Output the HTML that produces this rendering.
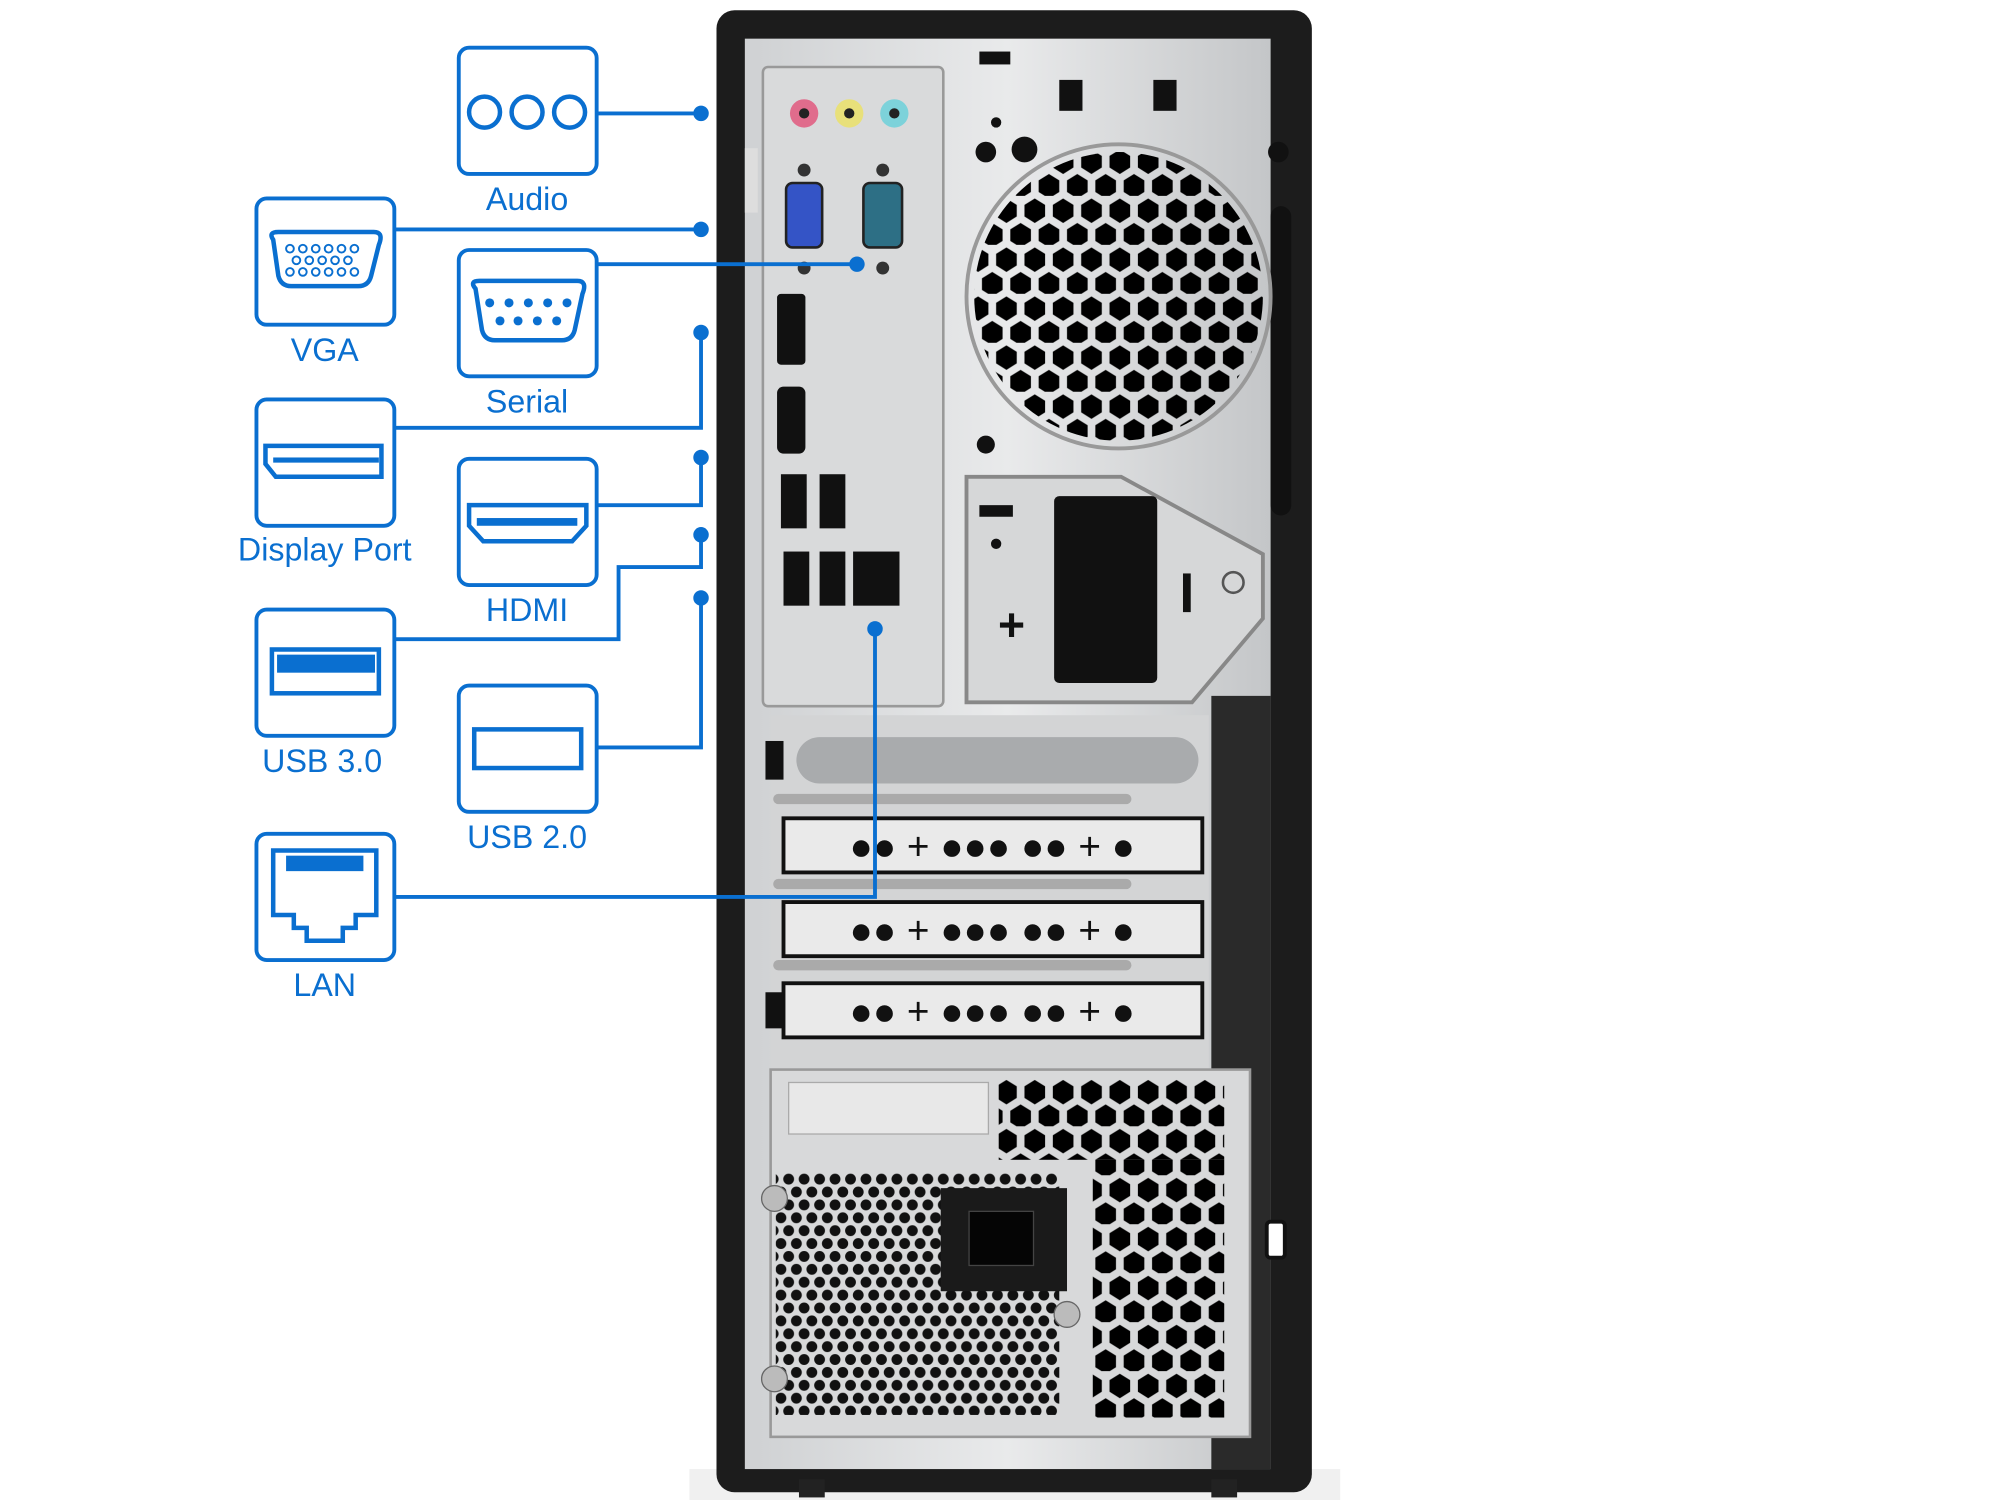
<!DOCTYPE html>
<html><head><meta charset="utf-8"><style>
html,body{margin:0;padding:0;background:#fff;width:2000px;height:1500px;overflow:hidden}
svg{display:block}
text{font-family:"Liberation Sans",sans-serif;fill:#0a6fd0;font-size:25px;text-anchor:middle}
</style></head><body>
<svg width="2000" height="1500" viewBox="0 0 1552 1164" preserveAspectRatio="none" xmlns="http://www.w3.org/2000/svg">
<defs>
<pattern id="hex" width="22" height="38" patternUnits="userSpaceOnUse">
<polygon points="11,2 19,7 19,16 11,21 3,16 3,7" fill="#000"/>
<polygon points="0,21 8,26 8,35 0,40 -8,35 -8,26" fill="#000"/>
<polygon points="22,21 30,26 30,35 22,40 14,35 14,26" fill="#000"/>
</pattern>
<pattern id="hexs" width="12" height="20" patternUnits="userSpaceOnUse">
<circle cx="6" cy="5" r="4.2" fill="#111"/><circle cx="0" cy="15" r="4.2" fill="#111"/><circle cx="12" cy="15" r="4.2" fill="#111"/>
</pattern>
<linearGradient id="met" x1="0" x2="1"><stop offset="0" stop-color="#cfd1d3"/><stop offset="0.5" stop-color="#e9eaeb"/><stop offset="1" stop-color="#c4c6c8"/></linearGradient>
</defs>
<!-- case -->
<rect x="535" y="1140" width="505" height="24" fill="#f0f0f0"/>
<rect x="556" y="8" width="462" height="1150" rx="14" fill="#1c1c1c"/>
<rect x="620" y="1148" width="20" height="14" fill="#222"/><rect x="940" y="1148" width="20" height="14" fill="#222"/>
<rect x="578" y="30" width="408" height="1110" fill="url(#met)"/>
<rect x="940" y="540" width="46" height="600" fill="#2a2a2a"/>
<rect x="986" y="160" width="16" height="240" rx="8" fill="#111"/>
<!-- I/O panel -->
<rect x="592" y="52" width="140" height="496" rx="4" fill="#d9dadb" stroke="#999" stroke-width="2"/>
<rect x="578" y="115" width="10" height="50" fill="#ddd"/>
<circle cx="624" cy="88" r="11" fill="#e06c8c"/><circle cx="624" cy="88" r="4" fill="#222"/>
<circle cx="659" cy="88" r="11" fill="#e8e07a"/><circle cx="659" cy="88" r="4" fill="#222"/>
<circle cx="694" cy="88" r="11" fill="#7dd2da"/><circle cx="694" cy="88" r="4" fill="#222"/>
<rect x="610" y="142" width="28" height="50" rx="5" fill="#3454c6" stroke="#222" stroke-width="2"/>
<rect x="670" y="142" width="30" height="50" rx="5" fill="#2d6f85" stroke="#222" stroke-width="2"/>
<circle cx="624" cy="132" r="5" fill="#333"/><circle cx="624" cy="208" r="5" fill="#333"/>
<circle cx="685" cy="132" r="5" fill="#333"/><circle cx="685" cy="208" r="5" fill="#333"/>
<rect x="603" y="228" width="22" height="55" rx="3" fill="#111"/>
<rect x="603" y="300" width="22" height="52" rx="5" fill="#111"/>
<rect x="606" y="368" width="20" height="42" fill="#111"/><rect x="636" y="368" width="20" height="42" fill="#111"/>
<rect x="608" y="428" width="20" height="42" fill="#111"/><rect x="636" y="428" width="20" height="42" fill="#111"/>
<rect x="662" y="428" width="36" height="42" fill="#111"/>
<!-- fan -->
<circle cx="868" cy="230" r="118" fill="none" stroke="#999" stroke-width="3"/>
<circle cx="868" cy="230" r="112" fill="url(#hex)"/>
<circle cx="773" cy="95" r="4" fill="#111"/><circle cx="765" cy="118" r="8" fill="#111"/><circle cx="795" cy="116" r="10" fill="#111"/>
<rect x="822" y="62" width="18" height="24" fill="#111"/><rect x="895" y="62" width="18" height="24" fill="#111"/>
<rect x="760" y="40" width="24" height="10" fill="#111"/>
<circle cx="992" cy="118" r="8" fill="#111"/><circle cx="765" cy="345" r="7" fill="#111"/>
<!-- right mid -->
<path d="M750 370 L870 370 L980 430 L980 480 L925 545 L750 545 Z" fill="#d6d7d8" stroke="#888" stroke-width="3"/>
<rect x="818" y="385" width="80" height="145" rx="4" fill="#111"/>
<rect x="760" y="392" width="26" height="9" fill="#111"/><circle cx="773" cy="422" r="4" fill="#111"/>
<text x="785" y="497" style="fill:#111;font-size:36px;font-weight:bold">+</text>
<rect x="918" y="445" width="6" height="30" fill="#111"/>
<circle cx="957" cy="452" r="8" fill="none" stroke="#555" stroke-width="2"/>
<!-- slots -->
<rect x="598" y="555" width="340" height="280" fill="#d3d4d5"/>
<rect x="618" y="572" width="312" height="36" rx="18" fill="#a9abad"/>
<rect x="594" y="575" width="14" height="30" fill="#111"/>
<rect x="600" y="616" width="278" height="8" rx="4" fill="#aaa"/>
<rect x="600" y="682" width="278" height="8" rx="4" fill="#aaa"/>
<rect x="600" y="745" width="278" height="8" rx="4" fill="#aaa"/>
<rect x="608" y="635" width="325" height="42" fill="#eaeaea" stroke="#111" stroke-width="3"/>
<rect x="608" y="700" width="325" height="42" fill="#eaeaea" stroke="#111" stroke-width="3"/>
<rect x="608" y="763" width="325" height="42" fill="#eaeaea" stroke="#111" stroke-width="3"/>
<rect x="594" y="770" width="14" height="28" fill="#111"/>
<text x="770" y="667" style="fill:#111;font-size:30px">●● + ●●●  ●● + ●</text>
<text x="770" y="732" style="fill:#111;font-size:30px">●● + ●●●  ●● + ●</text>
<text x="770" y="795" style="fill:#111;font-size:30px">●● + ●●●  ●● + ●</text>
<!-- PSU -->
<rect x="598" y="830" width="372" height="285" fill="#d8d9da" stroke="#999" stroke-width="2"/>
<rect x="612" y="840" width="155" height="40" fill="#e8e8e8" stroke="#aaa"/>
<rect x="602" y="910" width="220" height="188" fill="url(#hexs)"/>
<rect x="775" y="838" width="175" height="62" fill="url(#hex)"/>
<rect x="848" y="900" width="102" height="200" fill="url(#hex)"/>
<rect x="730" y="922" width="98" height="80" fill="#1a1a1a"/>
<rect x="752" y="940" width="50" height="42" fill="#050505" stroke="#444"/>
<circle cx="601" cy="930" r="10" fill="#bbb" stroke="#666"/><circle cx="601" cy="1070" r="10" fill="#bbb" stroke="#666"/>
<circle cx="828" cy="1020" r="10" fill="#bbb" stroke="#666"/>
<rect x="983" y="948" width="14" height="28" rx="3" fill="#fff" stroke="#111" stroke-width="3"/>
<!-- callout boxes -->
<g fill="#fff" stroke="#0a6fd0" stroke-width="3">
<rect x="356" y="37" width="107" height="98" rx="8"/>
<rect x="199" y="154" width="107" height="98" rx="8"/>
<rect x="356" y="194" width="107" height="98" rx="8"/>
<rect x="199" y="310" width="107" height="98" rx="8"/>
<rect x="356" y="356" width="107" height="98" rx="8"/>
<rect x="199" y="473" width="107" height="98" rx="8"/>
<rect x="356" y="532" width="107" height="98" rx="8"/>
<rect x="199" y="647" width="107" height="98" rx="8"/>
</g>
<g fill="none" stroke="#0a6fd0" stroke-width="3.5">
<circle cx="376" cy="87" r="12"/><circle cx="409" cy="87" r="12"/><circle cx="442" cy="87" r="12"/>
<path d="M212 186 Q208 180 216 180 L290 180 Q298 180 294 190 L288 214 Q286 222 278 222 L226 222 Q218 222 216 214 Z"/>
<path d="M369 224 Q364 218 372 218 L448 218 Q456 218 452 228 L446 256 Q444 264 436 264 L384 264 Q376 264 374 256 Z"/>
<path d="M206 346 L296 346 L296 370 L214 370 L206 360 Z"/>
<path d="M364 392 L455 392 L455 408 L444 420 L375 420 L364 408 Z"/>
<rect x="211" y="504" width="83" height="34"/>
<rect x="368" y="566" width="83" height="30"/>
<path d="M212 660 L292 660 L292 710 L276 710 L276 720 L266 720 L266 730 L238 730 L238 720 L228 720 L228 710 L212 710 Z"/>
</g>
<g fill="#0a6fd0">
<rect x="215" y="508" width="76" height="14"/>
<rect x="370" y="402" width="78" height="6"/>
<circle cx="380" cy="235" r="3.5"/><circle cx="395" cy="235" r="3.5"/><circle cx="410" cy="235" r="3.5"/><circle cx="425" cy="235" r="3.5"/><circle cx="440" cy="235" r="3.5"/>
<circle cx="388" cy="249" r="3.5"/><circle cx="402" cy="249" r="3.5"/><circle cx="417" cy="249" r="3.5"/><circle cx="432" cy="249" r="3.5"/>
<rect x="212" y="355" width="82" height="4"/>
<rect x="222" y="664" width="60" height="12"/>
</g>
<g fill="none" stroke="#0a6fd0" stroke-width="1.5">
<circle cx="225" cy="193" r="3"/><circle cx="235" cy="193" r="3"/><circle cx="245" cy="193" r="3"/><circle cx="255" cy="193" r="3"/><circle cx="265" cy="193" r="3"/><circle cx="275" cy="193" r="3"/>
<circle cx="230" cy="202" r="3"/><circle cx="240" cy="202" r="3"/><circle cx="250" cy="202" r="3"/><circle cx="260" cy="202" r="3"/><circle cx="270" cy="202" r="3"/>
<circle cx="225" cy="211" r="3"/><circle cx="235" cy="211" r="3"/><circle cx="245" cy="211" r="3"/><circle cx="255" cy="211" r="3"/><circle cx="265" cy="211" r="3"/><circle cx="275" cy="211" r="3"/>
</g>
<text x="409" y="163">Audio</text>
<text x="252" y="280">VGA</text>
<text x="409" y="320">Serial</text>
<text x="252" y="435">Display Port</text>
<text x="409" y="482">HDMI</text>
<text x="250" y="599">USB 3.0</text>
<text x="409" y="658">USB 2.0</text>
<text x="252" y="773">LAN</text>
<!-- connectors -->
<g fill="none" stroke="#0a6fd0" stroke-width="3">
<path d="M463 88 H544"/>
<path d="M306 178 H544"/>
<path d="M463 205 H665"/>
<path d="M306 332 H544 V258"/>
<path d="M463 392 H544 V355"/>
<path d="M306 496 H480 V440 H544 V415"/>
<path d="M463 580 H544 V464"/>
<path d="M306 696 H679 V488"/>
</g>
<g fill="#0a6fd0">
<circle cx="544" cy="88" r="6"/><circle cx="544" cy="178" r="6"/><circle cx="665" cy="205" r="6"/>
<circle cx="544" cy="258" r="6"/><circle cx="544" cy="355" r="6"/><circle cx="544" cy="415" r="6"/>
<circle cx="544" cy="464" r="6"/><circle cx="679" cy="488" r="6"/>
</g>
</svg>
</body></html>
